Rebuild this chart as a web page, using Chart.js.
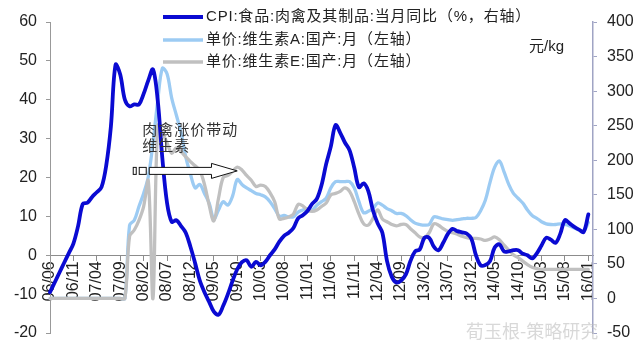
<!DOCTYPE html>
<html>
<head>
<meta charset="utf-8">
<script src="https://cdn.jsdelivr.net/npm/chart.js@4.4.1/dist/chart.umd.min.js"></script>
<style>
html,body{margin:0;padding:0;background:#fff;}
#wrap{width:640px;height:364px;position:relative;}
</style>
</head>
<body>
<div id="wrap"><canvas id="cpiChart" width="640" height="364"></canvas></div>
<script>
// months 2006/06 .. 2016/02 (last one empty, like the excel axis)
const startYear = 2006, startMonth = 6, monthCount = 117
let months = []
for (let i = 0; i < monthCount; i++) {
    let mm = startMonth - 1 + i
    let yy = startYear + Math.floor(mm / 12)
    months.push(String(yy % 100).padStart(2, '0') + '/' + String(mm % 12 + 1).padStart(2, '0'))
}

// shown tick labels, every 5 months
const tickLabels = ['06/06','06/11','07/04','07/09','08/02','08/07','08/12','09/05','09/10','10/03','10/08','11/01',
    '11/06','11/11','12/04','12/09','13/02','13/07','13/12','14/05','14/10','15/03','15/08','16/01']

// CPI 肉禽及其制品 当月同比 (%)
const cpiMeat = [
    -9.5, -7, -4.5, -2, 0.5, 3, 7.5, 13.2, 13.5, 15,
    16.2, 17.5, 23, 33, 49, 46.5, 40, 38.3, 38.8, 38.8,
    41.5, 45, 47.8, 40, 25, 13.5, 8.6, 9, 7.5, 5.8,
    2.2, -2, -6.5, -9.5, -12, -14.5, -15.3, -13, -10, -6.6,
    -3.6, -1.8, -1.3, -3, -1.7, -2.6, -1.7, 0, 1.5, 3.5,
    5, 5.8, 7, 9.5, 10.3, 11.4, 13.2, 14.5, 18, 23.5,
    28, 33.5, 31.5, 29, 27, 22.5, 17.5, 18.5, 16.5, 11.5,
    8.2, 5.8, -1.5, -5.5, -7, -6.5, -5, -1.5, 1, 1.5,
    4.5, 4.5, 2.2, 1.3, 3.2, 5.5, 6.8, 6.2, 5.9, 5.6,
    4.3, 0, -2.6, -2.5, -1.5, 2, 2.8, 1, 1, 1.3,
    1.3, 0.4, 0, -0.8, 0.5, 2.5, 4.5, 4, 3.2, 5.5,
    9, 8.2, 7.3, 6.6, 6, 10.5, null
]

// 单价 维生素A 国产 (元/kg)
const vitA = [
    0, 0, 0, 0, 0, 0, 0, 0, 0, 0,
    0, 0, 0, 0, 0, 0, 0, 106, 113, 133,
    152, 176, 225, 285, 333, 325, 290, 265, 240, 205,
    180, 160, 165, 152, 138, 115, 128, 140, 135, 148,
    172, 165, 160, 156, 152, 150, 147, 140, 130, 119,
    120, 118, 118, 125, 128, 130, 128, 135, 140, 145,
    160, 169, 169, 169, 169, 160, 140, 124, 126, 130,
    138, 135, 130, 127, 123, 123, 120, 114, 109, 107,
    106, 107, 118, 117, 115, 114, 113, 114, 115, 116,
    116, 117, 127, 142, 168, 190, 199, 183, 165, 152,
    145, 138, 128, 120, 116, 111, 108, 107, 107, 108,
    107, 105, 102, 99, 97, 110, null
]

// 单价 维生素E 国产 (元/kg)
const vitE = [
    0, 0, 0, 0, 0, 0, 0, 0, 0, 0,
    0, 0, 0, 0, 0, 0, 0, 90, 99, 113,
    133, 170, 0, 250, 240, 225, 210, 218, 212, 205,
    198, 192, 185, 165, 135, 112, 145, 175, 178, 184,
    190, 186, 178, 171, 162, 164, 162, 153, 140, 115,
    116, 118, 122, 136, 134, 128, 126, 128, 133, 138,
    150, 152, 155, 160, 155, 140, 122, 108, 106, 116,
    128, 115, 111, 107, 105, 107, 107, 101, 95, 89,
    88, 95, 108, 106, 101, 97, 95, 93, 90, 88,
    87, 87, 86, 84, 86, 89, 85, 77, 70, 63,
    59, 54, 49, 45, 43, 42, 42, 42, 42, 42,
    42, 42, 42, 42, 42, 42, null
]

const seriesNames = ['CPI:食品:肉禽及其制品:当月同比（%，右轴）', '单价:维生素A:国产:月（左轴）', '单价:维生素E:国产:月（左轴）']
const seriesColors = ['#0a0ad2', '#9ccbf3', '#c0c0c0']

// annotation, in axis units (month index / left axis value)
const noteLines = ['肉禽涨价带动', '维生素']
const noteAt = { m: 19.7, v: 32, gap: 4 }
const arrowAt = { from: 21.2, neck: 34.5, tip: 40, v: 21.7 }

const fontLat = '"Liberation Sans", Arial, sans-serif'
const fontCjk = '"Liberation Sans", "Noto Sans CJK SC", sans-serif'

//custom drawing: legend, note, arrow, unit, watermark
const extrasPlugin = {
    id: 'extras',
    afterDatasetsDraw(chart) {
        const ctx = chart.ctx
        const xs = chart.scales.x, ys = chart.scales.y
        ctx.save()

        // note text
        ctx.fillStyle = '#333'
        ctx.font = '15px ' + fontCjk
        ctx.letterSpacing = '1px'
        ctx.textBaseline = 'middle'
        ctx.textAlign = 'left'
        ctx.fillText(noteLines[0], xs.getPixelForValue(noteAt.m), ys.getPixelForValue(noteAt.v))
        ctx.fillText(noteLines[1], xs.getPixelForValue(noteAt.m), ys.getPixelForValue(noteAt.v - noteAt.gap))
        ctx.letterSpacing = '0px'

        // block arrow
        const ay = ys.getPixelForValue(arrowAt.v)
        const x0 = xs.getPixelForValue(arrowAt.from)
        const x1 = xs.getPixelForValue(arrowAt.neck)
        const x2 = xs.getPixelForValue(arrowAt.tip)
        ctx.fillStyle = '#fff'
        ctx.strokeStyle = '#111'
        ctx.lineWidth = 1
        ctx.beginPath()
        ctx.moveTo(x0, ay - 3.5)
        ctx.lineTo(x1, ay - 3.5)
        ctx.lineTo(x1, ay - 7.5)
        ctx.lineTo(x2, ay)
        ctx.lineTo(x1, ay + 7.5)
        ctx.lineTo(x1, ay + 3.5)
        ctx.lineTo(x0, ay + 3.5)
        ctx.closePath()
        ctx.fill()
        ctx.stroke()
        // two little boxes in front
        ctx.fillRect(x0 - 10, ay - 3.5, 7, 7)
        ctx.strokeRect(x0 - 10, ay - 3.5, 7, 7)
        ctx.fillRect(x0 - 16, ay - 3.5, 3, 7)
        ctx.strokeRect(x0 - 16, ay - 3.5, 3, 7)

        ctx.restore()
    },
    afterDraw(chart) {
        const ctx = chart.ctx
        ctx.save()
        // legend
        const rows = [17, 40, 62]
        for (let i = 0; i < 3; i++) {
            ctx.strokeStyle = seriesColors[i]
            ctx.lineWidth = i == 0 ? 4 : 3.5
            ctx.beginPath()
            ctx.moveTo(163, rows[i])
            ctx.lineTo(203, rows[i])
            ctx.stroke()
            ctx.fillStyle = '#222'
            ctx.font = '15px ' + fontCjk
            ctx.letterSpacing = '0.8px'
            ctx.textBaseline = 'middle'
            ctx.textAlign = 'left'
            ctx.fillText(seriesNames[i], 206, rows[i])
        }
        ctx.letterSpacing = '0px'
        // unit
        ctx.font = '15px ' + fontCjk
        ctx.fillText('元/kg', 529, 47)

        // watermark
        ctx.fillStyle = 'rgba(190,190,190,0.6)'
        ctx.font = '18px "Noto Sans CJK SC", sans-serif'
        ctx.fillText('荀玉根-策略研究', 466, 331)
        ctx.restore()
    }
}

const  drawChart = () =>{
    const ctx = document.getElementById('cpiChart').getContext('2d')
    const myChart = new Chart(ctx, {
        type: 'line',
        data: {
            labels: months,
            datasets: [{
                label: seriesNames[0],
                data: cpiMeat,
                yAxisID: 'y',
                borderColor: seriesColors[0],
                borderWidth: 3.8,
                order: 0
            }, {
                label: seriesNames[1],
                data: vitA,
                yAxisID: 'y1',
                borderColor: seriesColors[1],
                borderWidth: 3.3,
                order: 2
            }, {
                label: seriesNames[2],
                data: vitE,
                yAxisID: 'y1',
                borderColor: seriesColors[2],
                borderWidth: 3.3,
                order: 1
            }]
        },
        options: {
            responsive: false,
            animation: false,
            devicePixelRatio: 1,
            layout: { padding: { top: 22, bottom: 31, left: 0, right: 0 } },
            elements: {
                point: { radius: 0 },
                line: { tension: 0.35, fill: false, borderCapStyle: 'round', borderJoinStyle: 'round' }
            },
            plugins: {
                legend: { display: false },
                tooltip: { enabled: false }
            },
            scales: {
                x: {
                    type: 'category',
                    position: { y: 0 },
                    offset: false,
                    border: { display: true, color: '#8c8c8c', width: 1 },
                    grid: { display: true, drawOnChartArea: false, drawTicks: true, tickLength: 5, color: '#8c8c8c' },
                    afterBuildTicks: s => { s.ticks = s.ticks.filter(t => t.value % 5 === 0) },
                    ticks: {
                        autoSkip: false,
                        maxRotation: 90,
                        minRotation: 90,
                        padding: 1,
                        color: '#222',
                        font: { family: fontLat, size: 16 },
                        callback: v => tickLabels[v / 5]
                    }
                },
                y: {
                    position: 'left',
                    min: -20,
                    max: 60,
                    afterFit: s => { s.width = 50 },
                    border: { display: true, color: '#999', width: 1 },
                    grid: { drawOnChartArea: false, tickLength: 4, color: '#999' },
                    ticks: { stepSize: 10, padding: 9, color: '#222', font: { family: fontLat, size: 16 } }
                },
                y1: {
                    position: 'right',
                    min: -50,
                    max: 400,
                    afterFit: s => { s.width = 47 },
                    border: { display: true, color: '#a0a4c4', width: 1.5 },
                    grid: { drawOnChartArea: false, tickLength: 4, color: '#a0a4c4' },
                    ticks: { stepSize: 50, padding: 10, color: '#222', font: { family: fontLat, size: 16 } }
                }
            }
        },
        plugins: [extrasPlugin]
    })
}

drawChart()
</script>
</body>
</html>
